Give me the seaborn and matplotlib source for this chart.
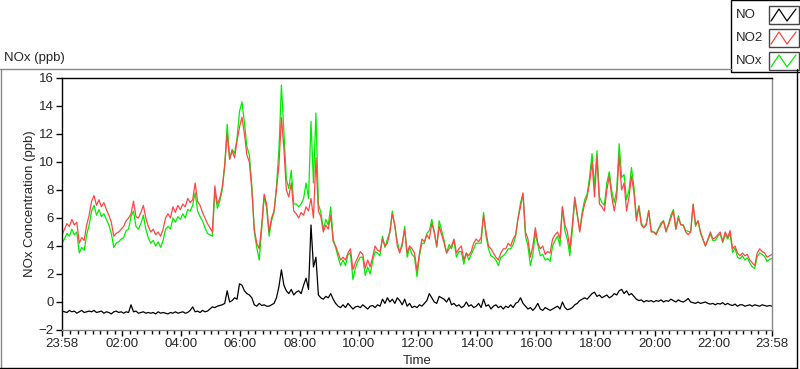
import numpy as np
import pandas as pd
import seaborn as sns
import matplotlib.pyplot as plt
from matplotlib.lines import Line2D
from matplotlib.patches import Rectangle

# 5-minute readings, starting at 23:58, one row per hour
no2 = [
    4.8, 5.2, 5.6, 5.4, 5.9, 5.5, 5.7, 4.2, 4.6, 4.4, 5.5, 6.2,
    7.2, 7.6, 6.9, 7.3, 6.8, 7.1, 6.6, 6.2, 5.7, 4.7, 4.9, 5.0,
    5.2, 5.4, 5.8, 6.0, 6.3, 7.2, 6.1, 6.0, 6.4, 6.9, 6.0, 5.4,
    5.0, 5.2, 4.8, 5.0, 4.7, 5.2, 6.0, 6.3, 6.0, 6.8, 6.4, 6.9,
    6.6, 7.0, 6.8, 7.4, 7.1, 7.3, 8.5, 7.2, 6.9, 6.4, 6.0, 5.6,
    5.3, 5.0, 8.3, 7.0, 7.4, 8.2, 9.8, 12.0, 10.2, 10.8, 10.3, 11.5,
    12.5, 13.2, 12.0, 10.5, 10.0, 8.0, 5.2, 4.2, 3.8, 5.5, 7.7, 7.0,
    5.0, 6.0, 6.5, 8.0, 9.8, 13.2, 11.0, 8.0, 7.5, 8.5, 6.5, 6.3,
    6.0, 6.4, 6.2, 6.8, 6.5, 7.4, 6.0, 10.3, 6.5, 6.1, 5.0, 5.5,
    5.2, 6.2, 4.3, 4.0, 3.5, 3.0, 3.2, 3.0, 3.5, 3.8, 2.3, 2.8,
    3.2, 3.6, 3.4, 2.4, 3.0, 2.5, 3.2, 4.0, 3.7, 3.6, 4.5, 4.0,
    4.2, 5.0, 6.3, 5.5, 4.0, 3.5, 4.2, 5.2, 3.5, 4.0, 3.8, 3.5,
    2.2, 3.5, 4.5, 4.3, 4.8, 4.5, 5.6, 5.0, 4.0, 5.4, 4.8, 4.2,
    3.5, 3.8, 4.0, 4.5, 3.5, 3.8, 4.0, 3.0, 3.5, 3.3, 3.6, 4.2,
    4.5, 4.3, 4.6, 6.2, 5.0, 4.0, 3.8, 3.5, 3.2, 3.0, 3.5, 3.8,
    3.8, 4.2, 4.0, 4.5, 4.8, 6.0, 6.8, 7.8, 5.0, 4.5, 3.2, 4.0,
    5.3, 4.2, 3.8, 4.0, 3.4, 3.6, 3.5, 4.5, 4.8, 5.0, 4.5, 6.8,
    5.5, 5.0, 3.8, 5.5, 7.5, 6.3, 5.0, 6.2, 7.0, 7.5, 8.5, 10.0,
    7.5, 10.4, 7.0, 6.8, 6.5, 8.0, 9.0, 7.5, 6.5, 7.5, 10.5, 8.0,
    8.5, 6.5, 7.5, 9.0, 7.8, 5.8, 6.8, 5.5, 5.3, 5.5, 6.5, 5.0,
    5.0, 4.8, 5.2, 5.5, 5.8, 5.0, 5.5, 6.0, 6.5, 5.2, 6.0, 5.5,
    5.5, 5.0, 4.8, 5.0, 7.0, 5.5, 5.8, 5.0, 4.5, 4.0, 4.5, 5.0,
    4.5, 4.6, 4.8, 5.0, 4.3, 5.0, 4.6, 5.1, 3.8, 4.0, 3.5, 3.3,
    3.5, 3.3, 3.4, 3.0, 2.8, 2.6, 3.5, 3.8, 3.6, 3.5, 3.2, 3.3,
    3.4,
]

no = [
    -0.65, -0.7, -0.75, -0.6, -0.7, -0.65, -0.8, -0.7, -0.6, -0.75, -0.7, -0.65,
    -0.7, -0.6, -0.75, -0.7, -0.65, -0.8, -0.7, -0.75, -0.85, -0.7, -0.65, -0.75,
    -0.7, -0.8, -0.7, -0.75, -0.2, -0.7, -0.65, -0.8, -0.75, -0.7, -0.8, -0.75,
    -0.8, -0.75, -0.85, -0.7, -0.8, -0.75, -0.8, -0.85, -0.75, -0.8, -0.7, -0.8,
    -0.75, -0.7, -0.8, -0.75, -0.6, -0.35, -0.7, -0.65, -0.75, -0.6, -0.7, -0.65,
    -0.5, -0.35, -0.4, -0.3, -0.25, -0.2, -0.1, 0.8, 0.0, 0.1, 0.3, 0.2,
    1.3, 1.2, 0.8, 0.6, 0.5, 0.3, -0.2, -0.3, -0.1, -0.25, -0.2, -0.3,
    -0.3, -0.2, -0.1, 0.3, 1.1, 2.3, 1.2, 0.8, 0.6, 0.9, 0.5, 0.7,
    0.8, 0.6, 1.2, 1.7, 0.9, 5.5, 2.5, 3.2, 0.5, 0.3, 0.2, 0.4,
    0.3, 0.6, 0.2, -0.1, -0.3, -0.4, -0.2, -0.4, -0.1, -0.3, -0.5, -0.35,
    -0.3, -0.4, -0.2, -0.35, -0.5, -0.3, -0.25, -0.4, -0.2, -0.3, 0.2, -0.1,
    0.3, 0.0, 0.2, -0.1, 0.3, 0.1, -0.2, 0.2, -0.3, -0.1, -0.4, -0.3,
    -0.4, -0.2, -0.3, -0.1, 0.1, 0.6, 0.3, 0.0, -0.1, 0.4, 0.3, 0.2,
    0.0, 0.3, -0.2, -0.1, -0.3, -0.2, -0.4, -0.3, 0.0, -0.3, -0.2, -0.4,
    -0.3, -0.1, -0.4, 0.2, -0.3, -0.2, -0.5, -0.3, -0.2, -0.4, -0.3, -0.5,
    -0.3, -0.4, -0.2, -0.4, -0.1, 0.0, 0.3, -0.1, -0.3, -0.5, -0.4, -0.6,
    -0.4, -0.1, -0.5, -0.6, -0.4, -0.5, -0.6, -0.5, -0.4, -0.3, -0.5, 0.0,
    -0.4, -0.55, -0.5, -0.4, -0.2, -0.1, 0.1, 0.2, 0.3, 0.2, 0.4, 0.6,
    0.7, 0.4, 0.5, 0.3, 0.4, 0.5, 0.3, 0.4, 0.6, 0.5, 0.8, 0.9,
    0.6, 0.8, 0.5, 0.6, 0.4, 0.2, 0.1, 0.15, 0.0, 0.1, 0.05, 0.1,
    0.0, 0.1, 0.05, 0.15, 0.0, 0.1, 0.05, 0.2, 0.1, 0.0, 0.15, 0.05,
    0.0, 0.1, 0.25, 0.0, -0.05, -0.1, 0.0, -0.1, -0.05, 0.0, -0.1, -0.15,
    -0.1, -0.2, -0.1, -0.15, -0.05, -0.2, -0.1, -0.2, -0.25, -0.15, -0.3, -0.2,
    -0.2, -0.3, -0.25, -0.2, -0.3, -0.2, -0.25, -0.3, -0.2, -0.25, -0.3, -0.25,
    -0.3,
]

nox = [
    4.2, 4.5, 4.9, 4.7, 5.2, 4.8, 5.0, 3.5, 3.9, 3.7, 4.8, 5.5,
    6.5, 6.9, 6.2, 6.6, 6.1, 6.3, 5.9, 5.5, 4.9, 3.9, 4.2, 4.3,
    4.5, 4.6, 5.1, 5.2, 6.1, 6.5, 5.4, 5.2, 5.6, 6.2, 5.2, 4.6,
    4.2, 4.4, 4.0, 4.3, 3.9, 4.4, 5.2, 5.4, 5.2, 6.0, 5.7, 6.1,
    5.9, 6.3, 6.0, 6.6, 6.5, 6.9, 7.8, 6.5, 6.1, 5.8, 5.3, 4.9,
    4.8, 4.7, 7.9, 6.7, 7.2, 8.0, 9.7, 12.7, 10.2, 10.9, 10.6, 11.7,
    13.6, 14.3, 12.8, 11.1, 10.5, 8.3, 5.0, 3.9, 3.0, 5.2, 7.5, 6.7,
    4.7, 5.8, 6.4, 8.3, 10.9, 15.5, 12.2, 8.8, 8.1, 9.4, 7.0, 7.0,
    6.8, 7.0, 7.4, 8.5, 7.4, 12.9, 8.5, 13.5, 7.0, 6.4, 5.2, 5.9,
    5.5, 6.8, 4.5, 3.9, 3.2, 2.6, 3.0, 2.6, 3.4, 3.5, 1.6, 2.4,
    2.9, 3.2, 3.2, 1.9, 2.5, 2.0, 2.9, 3.6, 3.5, 3.3, 4.7, 3.9,
    4.5, 5.0, 6.5, 5.4, 4.3, 3.6, 4.0, 5.4, 3.2, 3.9, 3.4, 3.2,
    1.8, 3.3, 4.2, 4.2, 4.9, 5.1, 5.9, 5.0, 3.9, 5.8, 5.1, 4.4,
    3.5, 4.1, 3.8, 4.4, 3.2, 3.6, 3.6, 2.7, 3.5, 3.0, 3.4, 3.8,
    4.2, 4.2, 4.2, 6.4, 4.7, 3.8, 3.3, 3.2, 3.0, 2.6, 3.2, 3.3,
    3.5, 3.8, 3.8, 4.1, 4.7, 6.0, 7.1, 7.7, 4.7, 4.0, 2.6, 3.4,
    4.9, 4.1, 3.3, 3.4, 3.0, 3.1, 2.9, 4.0, 4.4, 4.7, 4.0, 6.8,
    5.1, 4.45, 3.3, 5.1, 7.3, 6.2, 5.1, 6.4, 7.3, 7.7, 8.9, 10.6,
    8.2, 10.8, 7.5, 7.1, 6.9, 8.5, 9.3, 7.9, 7.1, 8.0, 11.3, 8.9,
    9.1, 7.3, 8.0, 9.6, 8.2, 6.0, 6.9, 5.65, 5.3, 5.6, 6.55, 5.1,
    5.0, 4.9, 5.25, 5.65, 5.8, 5.1, 5.55, 6.2, 6.6, 5.2, 6.15, 5.55,
    5.5, 5.1, 5.05, 5.0, 6.95, 5.4, 5.8, 4.9, 4.45, 4.0, 4.4, 4.85,
    4.4, 4.4, 4.7, 4.85, 4.25, 4.8, 4.5, 4.9, 3.55, 3.85, 3.2, 3.1,
    3.3, 3.0, 3.15, 2.8, 2.5, 2.4, 3.25, 3.5, 3.4, 3.25, 2.9, 3.05,
    3.1,
]

# hours since 23:58
hours = np.arange(len(no2)) * 5 / 60
df = pd.DataFrame({'t': hours, 'NO': no, 'NO2': no2, 'NOx': nox})

tick_labels = ['23:58', '02:00', '04:00', '06:00', '08:00', '10:00', '12:00',
               '14:00', '16:00', '18:00', '20:00', '22:00', '23:58']

sns.set_style('white')
plt.rcParams['font.family'] = ['Liberation Sans', 'DejaVu Sans']

colors = {'NO': 'black', 'NO2': '#ff4646', 'NOx': '#00ee00'}

fig = plt.figure(figsize=(8, 3.69), dpi=100)
ax = fig.add_axes([62/800, 39/369, 710/800, 252/369])

sns.lineplot(data=df, x='t', y='NOx', color=colors['NOx'], lw=0.9, ax=ax)
sns.lineplot(data=df, x='t', y='NO2', color=colors['NO2'], lw=0.9, ax=ax)
sns.lineplot(data=df, x='t', y='NO', color=colors['NO'], lw=0.9, ax=ax)

ax.set_xlim(0, 24)
ax.set_ylim(-2, 16)
ax.set_yticks(range(-2, 17, 2))
major = [0] + [h + 2/60 for h in range(2, 23, 2)] + [24]
ax.set_xticks(major)
ax.set_xticklabels(tick_labels)
ax.set_xticks([m / 60 + 2/60 for m in range(15, 1440, 15) if m % 120], minor=True)
ax.tick_params(axis='both', which='major', direction='out', length=4, width=1,
               color='black', labelsize=9.5, pad=2, bottom=True, left=True)
ax.tick_params(axis='x', which='minor', direction='out', length=3, width=1,
               color='black', bottom=True)

for side in ['top', 'left']:
    ax.spines[side].set_color('black')
for side in ['right', 'bottom']:
    ax.spines[side].set_color('#888888')
for s in ax.spines.values():
    s.set_linewidth(1)

ax.set_xlabel('Time', fontsize=9.5, labelpad=3)
ax.set_ylabel('NOx Concentration (ppb)', fontsize=9.5, labelpad=2)

# outer panel frame
fig.add_artist(Line2D([0, 731/800], [1 - 69/369, 1 - 69/369], color='#888888', lw=1))
fig.add_artist(Line2D([1/800, 1/800], [0, 1 - 69/369], color='#888888', lw=1))
fig.add_artist(Line2D([0, 797/800], [1/369, 1/369], color='black', lw=1))
fig.add_artist(Line2D([797/800, 797/800], [0, 1 - 69/369], color='black', lw=1))
fig.text(4/800, 1 - 58/369, 'NOx (ppb)', fontsize=9.5, va='center', ha='left')

# legend panel
fig.add_artist(Rectangle((731/800, 1 - 72/369), 70/800, 72/369, transform=fig.transFigure,
                         fill=True, facecolor='white', edgecolor='black', lw=1))
for i, name in enumerate(['NO', 'NO2', 'NOx']):
    yc = 15 + i * 23
    fig.text(736/800, 1 - yc/369, name, fontsize=9.5, va='center', ha='left')
    fig.add_artist(Rectangle((769/800, 1 - (yc + 9)/369), 30/800, 18/369,
                             transform=fig.transFigure, fill=False, edgecolor='#444444', lw=1))
    zx = np.array([771, 779, 787, 796]) / 800
    zy = 1 - np.array([yc + 6, yc - 6, yc + 6, yc - 6]) / 369
    fig.add_artist(Line2D(zx, zy, color=colors[name], lw=0.9))

fig.savefig('out.png', dpi=100)
